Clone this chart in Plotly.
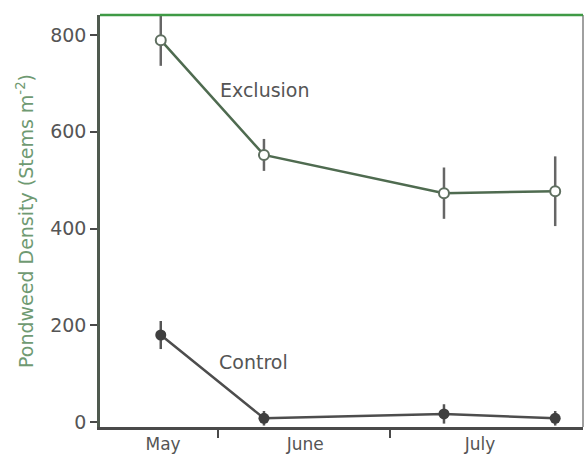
import plotly.graph_objects as go

# Sampling dates expressed as day number counted from May 1 (day 1)
sample_days = [21, 39, 70.4, 89.8]
exclusion = [789, 552, 473, 477]
exclusion_err = [53, 33, 53, 72]
control = [180, 8, 17, 8]
control_err = [29, 15, 20, 15]

month_labels = ["May", "June", "July"]
month_centers = [21.4, 46.2, 76.7]
month_bounds = [31, 61]
y_ticks = [0, 200, 400, 600, 800]

FONT = "DejaVu Sans, Verdana, sans-serif"
GRAY = "#555555"
GREEN = "#3f9a45"

fig = go.Figure()

fig.add_trace(go.Scatter(
    x=sample_days, y=exclusion, mode="lines+markers",
    line=dict(color="#4f6b50", width=2.5),
    marker=dict(symbol="circle", size=10, color="white",
                line=dict(color="#5f6f60", width=2)),
    error_y=dict(type="data", array=exclusion_err, visible=True,
                 color="#666666", thickness=2.5, width=0),
    showlegend=False,
))

fig.add_trace(go.Scatter(
    x=sample_days, y=control, mode="lines+markers",
    line=dict(color="#4d4d4d", width=2.5),
    marker=dict(symbol="circle", size=11, color="#3f3f3f"),
    error_y=dict(type="data", array=control_err, visible=True,
                 color="#555555", thickness=2.5, width=0),
    showlegend=False,
))

# invisible trace to activate boundary-tick axis
fig.add_trace(go.Scatter(x=[month_bounds[0]], y=[None], xaxis="x2",
                         showlegend=False, hoverinfo="skip"))

fig.add_annotation(x=39.2, y=686, text="Exclusion", showarrow=False,
                   font=dict(family=FONT, size=19, color=GRAY))
fig.add_annotation(x=37.1, y=124, text="Control", showarrow=False,
                   font=dict(family=FONT, size=19, color=GRAY))

# right frame line and green top border
fig.add_shape(type="line", xref="paper", yref="paper", x0=1, x1=1, y0=0, y1=1,
              line=dict(color="#808080", width=1.5))
fig.add_shape(type="line", xref="paper", yref="paper", x0=0, x1=1, y0=1, y1=1,
              line=dict(color=GREEN, width=2.5))

fig.update_layout(
    width=585, height=454,
    margin=dict(l=100, r=2, t=15, b=27),
    paper_bgcolor="white", plot_bgcolor="white",
    font=dict(family=FONT, size=19, color=GRAY),
    xaxis=dict(range=[10.4, 94.65], tickmode="array", tickvals=month_centers,
               ticktext=month_labels, ticks="", showline=True,
               linecolor="#4a4a4a", linewidth=2.5, showgrid=False,
               zeroline=False, automargin=False,
               tickfont=dict(family=FONT, size=17, color=GRAY)),
    xaxis2=dict(range=[10.4, 94.65], overlaying="x", side="bottom",
                tickmode="array", tickvals=month_bounds, ticks="outside",
                ticklen=10, tickwidth=2, tickcolor="#4a4a4a",
                showticklabels=False, showline=False, showgrid=False,
                zeroline=False, automargin=False),
    yaxis=dict(range=[-10, 841], tickmode="array", tickvals=y_ticks,
               ticks="outside", ticklen=7, tickwidth=2, tickcolor="#4a4a4a",
               showline=True, linecolor="#4f5a4f", linewidth=2.5,
               showgrid=False, zeroline=False, automargin=False,
               tickfont=dict(family=FONT, size=19, color=GRAY),
               title=dict(text="Pondweed Density (Stems m<sup>-2</sup>)",
                          font=dict(family=FONT, size=19, color="#6f9a72"),
                          standoff=12)),
)

fig.write_html(
    "out.html",
    config={"displayModeBar": False},
    post_script="document.body.style.margin='0';document.body.style.overflow='hidden';",
)
